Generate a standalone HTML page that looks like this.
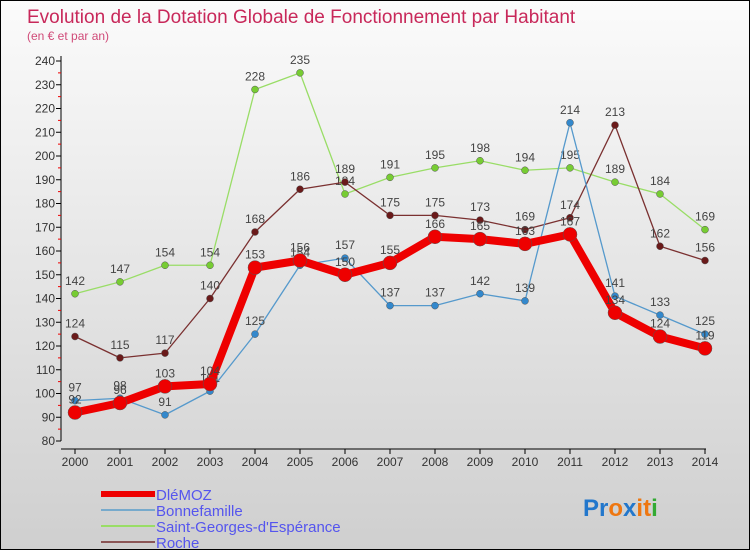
<!DOCTYPE html>
<html><head><meta charset="utf-8"><style>
body{margin:0;}
#wrap{width:748px;height:548px;border:1px solid #000;background:linear-gradient(#fbfbfb,#cfcfcf);position:relative;font-family:"Liberation Sans",sans-serif;overflow:hidden}
</style></head><body>
<div id="wrap">
<svg id="svg" width="748" height="548"></svg>
</div>
<script>
const years=[2000,2001,2002,2003,2004,2005,2006,2007,2008,2009,2010,2011,2012,2013,2014];
const dlemoz=[92,96,103,104,153,156,150,155,166,165,163,167,134,124,119];
const bonnefamille=[97,98,91,101,125,154,157,137,137,142,139,214,141,133,125];
const saintGeorges=[142,147,154,154,228,235,184,191,195,198,194,195,189,184,169];
const roche=[124,115,117,140,168,186,189,175,175,173,169,174,213,162,156];
const yTicks=[80,90,100,110,120,130,140,150,160,170,180,190,200,210,220,230,240];
const NS="http://www.w3.org/2000/svg";
const svg=document.getElementById('svg');
function x(i){return 74+i*45;}
function y(v){return 440-(v-80)*2.375;}
function mk(t,a,p){const e=document.createElementNS(NS,t);for(const k in a)e.setAttribute(k,a[k]);(p||svg).appendChild(e);return e;}
function txt(s,a){const e=mk('text',a);e.textContent=s;return e;}
let e;
e=txt('Evolution de la Dotation Globale de Fonctionnement par Habitant',{x:26,y:22,'font-size':19,fill:'#c8285a'});

e=txt('(en € et par an)',{x:26,y:39,'font-size':12,fill:'#d04a78'});

// axes
mk('line',{x1:60,y1:y(80),x2:60,y2:y(240)+(-5),stroke:'#000'});
mk('line',{x1:60,y1:448,x2:705,y2:448,stroke:'#000'});
yTicks.forEach(v=>{
 mk('line',{x1:55,x2:60,y1:y(v),y2:y(v),stroke:'#000'});
 mk('line',{x1:57,x2:60,y1:y(v+5),y2:y(v+5),stroke:'#e00'}).setAttribute('visibility',v<240?'visible':'hidden');
 e=txt(v,{x:54,y:y(v)+4,'font-size':12,fill:'#333','text-anchor':'end'});
 
});
years.forEach((yr,i)=>{
 mk('line',{x1:x(i),x2:x(i),y1:448,y2:453,stroke:'#000'});
 e=txt(yr,{x:x(i),y:465,'font-size':12,fill:'#333','text-anchor':'middle'});
 
});
function series(data,color,w,r,dot,name,labels){
 const g=mk('g',{});
 
 mk('polyline',{points:data.map((v,i)=>x(i)+','+y(v)).join(' '),fill:'none',stroke:color,'stroke-width':w,'stroke-linejoin':'round'},g);
 data.forEach((v,i)=>{
  const c=mk('circle',{cx:x(i),cy:y(v),r:r,fill:dot,stroke:'#555','stroke-width':0.5},g);
  
  if(labels){const t=txt(v,{x:x(i),y:y(v)-9,'font-size':12,fill:'#444','text-anchor':'middle'});
  }
 });
}
series(saintGeorges,'#99dd66',1.3,3.5,'#77cc33','saint-georges',true);
series(roche,'#7a3030',1.3,3.5,'#6a1a1a','roche',true);
series(bonnefamille,'#5599cc',1.3,3.5,'#3388cc','bonnefamille',true);
series(dlemoz,'#ee0000',8,7,'#ee0000','dlemoz',true);
// legend
const leg=[['DléMOZ','#ee0000',6],['Bonnefamille','#77aacc',2],['Saint-Georges-d\'Espérance','#99dd66',2],['Roche','#8a5555',2]];
leg.forEach((l,i)=>{
 const yy=493+i*16;
 const g=mk('g',{});
 mk('line',{x1:100,x2:154,y1:yy,y2:yy,stroke:l[1],'stroke-width':l[2]},g);
 const t=mk('text',{x:155,y:yy+6,'font-size':15,fill:'#5555ee'},g);t.textContent=l[0];
});
const lg=mk('text',{x:582,y:515,'font-size':24,'font-weight':'bold'});

[['Pr','#2277cc'],['o','#ee7711'],['x','#2277cc'],['i','#ee7711'],['t','#ee7711'],['i','#33aa33']].forEach(p=>{const s=mk('tspan',{fill:p[1]},lg);s.textContent=p[0];});
</script>
</body></html>
